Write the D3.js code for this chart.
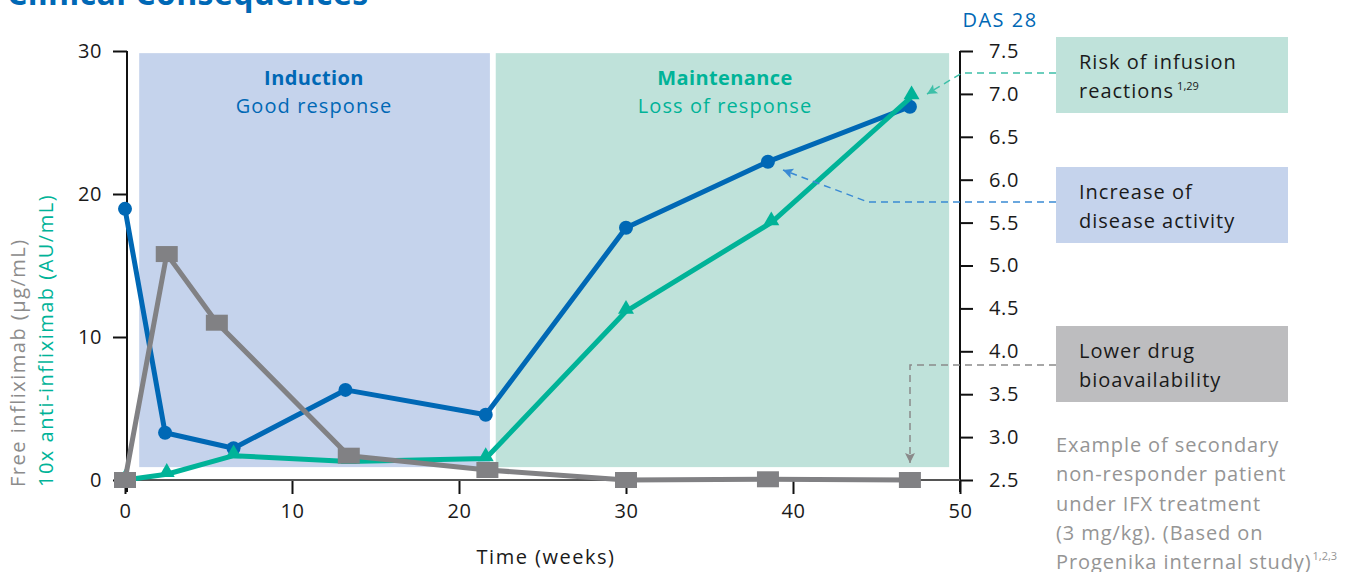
<!DOCTYPE html>
<html><head><meta charset="utf-8">
<script src="https://cdn.jsdelivr.net/npm/d3@7/dist/d3.min.js"></script>
<style>
body{margin:0;background:#fff;}
svg{display:block;font-family:"Open Sans","Noto Sans",sans-serif;}
</style></head>
<body><svg id="c" width="1359" height="572"></svg>
<script>
// ---- data ----
const xTicks = [0,10,20,30,40,50];
const leftTicks = [0,10,20,30];
const rightTicks = [2.5,3.0,3.5,4.0,4.5,5.0,5.5,6.0,6.5,7.0,7.5];

const dasWeeks = [0, 2.4, 6.5, 13.2, 21.6, 30, 38.5, 47];
const dasValues = [5.66, 3.05, 2.87, 3.55, 3.26, 5.44, 6.21, 6.85];

const freeWeeks = [0, 2.5, 5.5, 13.4, 21.7, 30, 38.5, 47];
const freeValues = [0, 15.8, 11.0, 1.7, 0.7, 0, 0.05, 0];

const antiWeeks = [0, 2.5, 6.5, 13.4, 21.6, 30, 38.7, 47.1];
const antiValues = [0, 0.4, 1.7, 1.3, 1.5, 11.8, 18.0, 26.8];

const phaseNames = ["Induction", "Maintenance"];
const phaseSubtitles = ["Good response", "Loss of response"];
const phaseStart = [0.85, 22.2];
const phaseEnd = [21.85, 49.35];

const boxTexts = [["Risk of infusion","reactions"],["Increase of","disease activity"],["Lower drug","bioavailability"]];
const noteLines = ["Example of secondary","non-responder patient","under IFX treatment","(3 mg/kg). (Based on","Progenika internal study)"];

// ---- setup ----
const BLUE="#0068b5", TEAL="#00b398", GRAY="#818184";
const svg = d3.select("#c");
const x = d3.scaleLinear().domain([0,50]).range([125,960]);
const yL = d3.scaleLinear().domain([0,30]).range([480,51]);
const yR = d3.scaleLinear().domain([2.5,7.5]).range([480,51]);

// title (cut off)
svg.append("text").attr("x",7).attr("y",5).attr("fill",BLUE).attr("font-weight","bold")
  .attr("font-size",32).attr("letter-spacing",0.4).text("Clinical Consequences");

// phase backgrounds
const phaseFill = ["#c5d3ec","#bfe2da"];
const phaseText = [BLUE, TEAL];
phaseNames.forEach((n,i)=>{
  svg.append("rect").attr("x",x(phaseStart[i])).attr("y",yL(29.85))
    .attr("width",x(phaseEnd[i])-x(phaseStart[i])).attr("height",yL(0.9)-yL(29.85))
    .attr("fill",phaseFill[i]);
});
const phaseCx = [314, 725];
phaseNames.forEach((n,i)=>{
  svg.append("text").attr("x",phaseCx[i]).attr("y",85).attr("text-anchor","middle")
    .attr("fill",phaseText[i]).attr("font-weight","bold").attr("font-size",20).attr("letter-spacing",0.4).text(n);
  svg.append("text").attr("x",phaseCx[i]).attr("y",113).attr("text-anchor","middle")
    .attr("fill",phaseText[i]).attr("font-size",20).attr("letter-spacing",1.1).text(phaseSubtitles[i]);
});

// axes
const axL = svg.append("g").attr("transform","translate(127,0)")
  .call(d3.axisLeft(yL).tickValues(leftTicks).tickSize(14).tickPadding(11).tickSizeOuter(0));
const axR = svg.append("g").attr("transform","translate(960,0)")
  .call(d3.axisRight(yR).tickValues(rightTicks).tickSize(13).tickPadding(16).tickFormat(d3.format(".1f")).tickSizeOuter(0));
const axX = svg.append("g").attr("transform","translate(0,480)")
  .call(d3.axisBottom(x).tickValues(xTicks).tickSize(14).tickPadding(10).tickSizeOuter(0));
[axL,axR,axX].forEach(a=>{
  a.select(".domain").remove();
  a.selectAll("line").attr("stroke","#111").attr("stroke-width",2);
  a.selectAll("text").attr("font-size",20).attr("fill","#1a1a1a").attr("letter-spacing",0.6).attr("font-family","'Open Sans',sans-serif");
});
svg.append("line").attr("x1",127).attr("x2",127).attr("y1",51).attr("y2",492).attr("stroke","#111").attr("stroke-width",2);
svg.append("line").attr("x1",960).attr("x2",960).attr("y1",51).attr("y2",492).attr("stroke","#111").attr("stroke-width",2);
svg.append("line").attr("x1",115).attr("x2",960).attr("y1",480).attr("y2",480).attr("stroke","#555").attr("stroke-width",2);

// axis titles
svg.append("text").attr("transform","translate(25,487) rotate(-90)").attr("fill","#8c8c8c")
  .attr("font-size",20).attr("letter-spacing",1.5).text("Free infliximab (µg/mL)");
svg.append("text").attr("transform","translate(53,487) rotate(-90)").attr("fill",TEAL)
  .attr("font-size",20).attr("letter-spacing",1.5).text("10x anti-infliximab (AU/mL)");
svg.append("text").attr("x",546).attr("y",564).attr("text-anchor","middle").attr("fill","#1a1a1a")
  .attr("font-size",20).attr("letter-spacing",1.5).text("Time (weeks)");
svg.append("text").attr("x",1000).attr("y",27).attr("text-anchor","middle").attr("fill",BLUE)
  .attr("font-size",20).attr("letter-spacing",1.5).text("DAS 28");

// series
const line = d3.line();
const dasPts = dasWeeks.map((w,i)=>[x(w), yR(dasValues[i])]);
const freePts = freeWeeks.map((w,i)=>[x(w), yL(freeValues[i])]);
const antiPts = antiWeeks.map((w,i)=>[x(w), yL(antiValues[i])]);

svg.append("path").attr("d",line(dasPts)).attr("fill","none").attr("stroke",BLUE).attr("stroke-width",5).attr("stroke-linejoin","round");
svg.selectAll(".das").data(dasPts).enter().append("circle").attr("cx",d=>d[0]).attr("cy",d=>d[1]).attr("r",7).attr("fill",BLUE);

svg.append("path").attr("d",line(antiPts)).attr("fill","none").attr("stroke",TEAL).attr("stroke-width",5).attr("stroke-linejoin","round");
const tri = d3.symbol().type(d3.symbolTriangle).size(110);
svg.selectAll(".anti").data(antiPts).enter().append("path").attr("d",tri)
  .attr("transform",d=>`translate(${d[0]},${d[1]-2})`).attr("fill",TEAL);

svg.append("path").attr("d",line(freePts)).attr("fill","none").attr("stroke",GRAY).attr("stroke-width",5).attr("stroke-linejoin","round");
svg.selectAll(".free").data(freePts).enter().append("rect").attr("x",d=>d[0]-11).attr("y",d=>d[1]-8)
  .attr("width",22).attr("height",16).attr("fill",GRAY);

// annotation boxes
const boxY = [37,167,326];
const boxFill = ["#bfe2da","#c5d3ec","#bdbdbf"];
boxTexts.forEach((t,i)=>{
  svg.append("rect").attr("x",1056).attr("y",boxY[i]).attr("width",232).attr("height",76).attr("fill",boxFill[i]);
  t.forEach((s,j)=>{
    const tx = svg.append("text").attr("x",1079).attr("y",boxY[i]+32+j*29).attr("fill","#1a1a1a")
      .attr("font-size",20).attr("letter-spacing",1.0).text(s);
    if(i===0 && j===1) tx.append("tspan").attr("dx",3).attr("dy",-8).attr("font-size",11).attr("letter-spacing",0).text("1,29");
  });
});
noteLines.forEach((s,j)=>{
  const t = svg.append("text").attr("x",1056).attr("y",452+j*29.3).attr("fill","#959595")
    .attr("font-size",20).attr("letter-spacing",0.9).text(s);
  if(j===noteLines.length-1) t.append("tspan").attr("dx",1).attr("dy",-9).attr("font-size",11).attr("letter-spacing",0).text("1,2,3");
});

// dashed connectors with arrowheads
function arrowHead(tip, from, color){
  const a = Math.atan2(tip[1]-from[1], tip[0]-from[0]);
  const L=10, W=5;
  const bx = tip[0]-L*Math.cos(a), by = tip[1]-L*Math.sin(a);
  const p = [[tip[0],tip[1]],[bx - W*Math.sin(a), by + W*Math.cos(a)],[bx+2*Math.cos(a),by+2*Math.sin(a)],[bx + W*Math.sin(a), by - W*Math.cos(a)]];
  svg.append("path").attr("d","M"+p.map(d=>d.join(",")).join("L")+"Z").attr("fill",color);
}
function connector(pts, color){
  svg.append("path").attr("d",line(pts)).attr("fill","none").attr("stroke",color).attr("stroke-width",1.5).attr("stroke-dasharray","7,5");
  arrowHead(pts[pts.length-1], pts[pts.length-2], color);
}
connector([[1056,73],[962,73],[927,94]], "#3dbfa8");
connector([[1056,202],[868,202],[783,170]], "#3a8ad4");
connector([[1056,365],[910,365],[910,463]], "#8a8a8a");
</script></body></html>
